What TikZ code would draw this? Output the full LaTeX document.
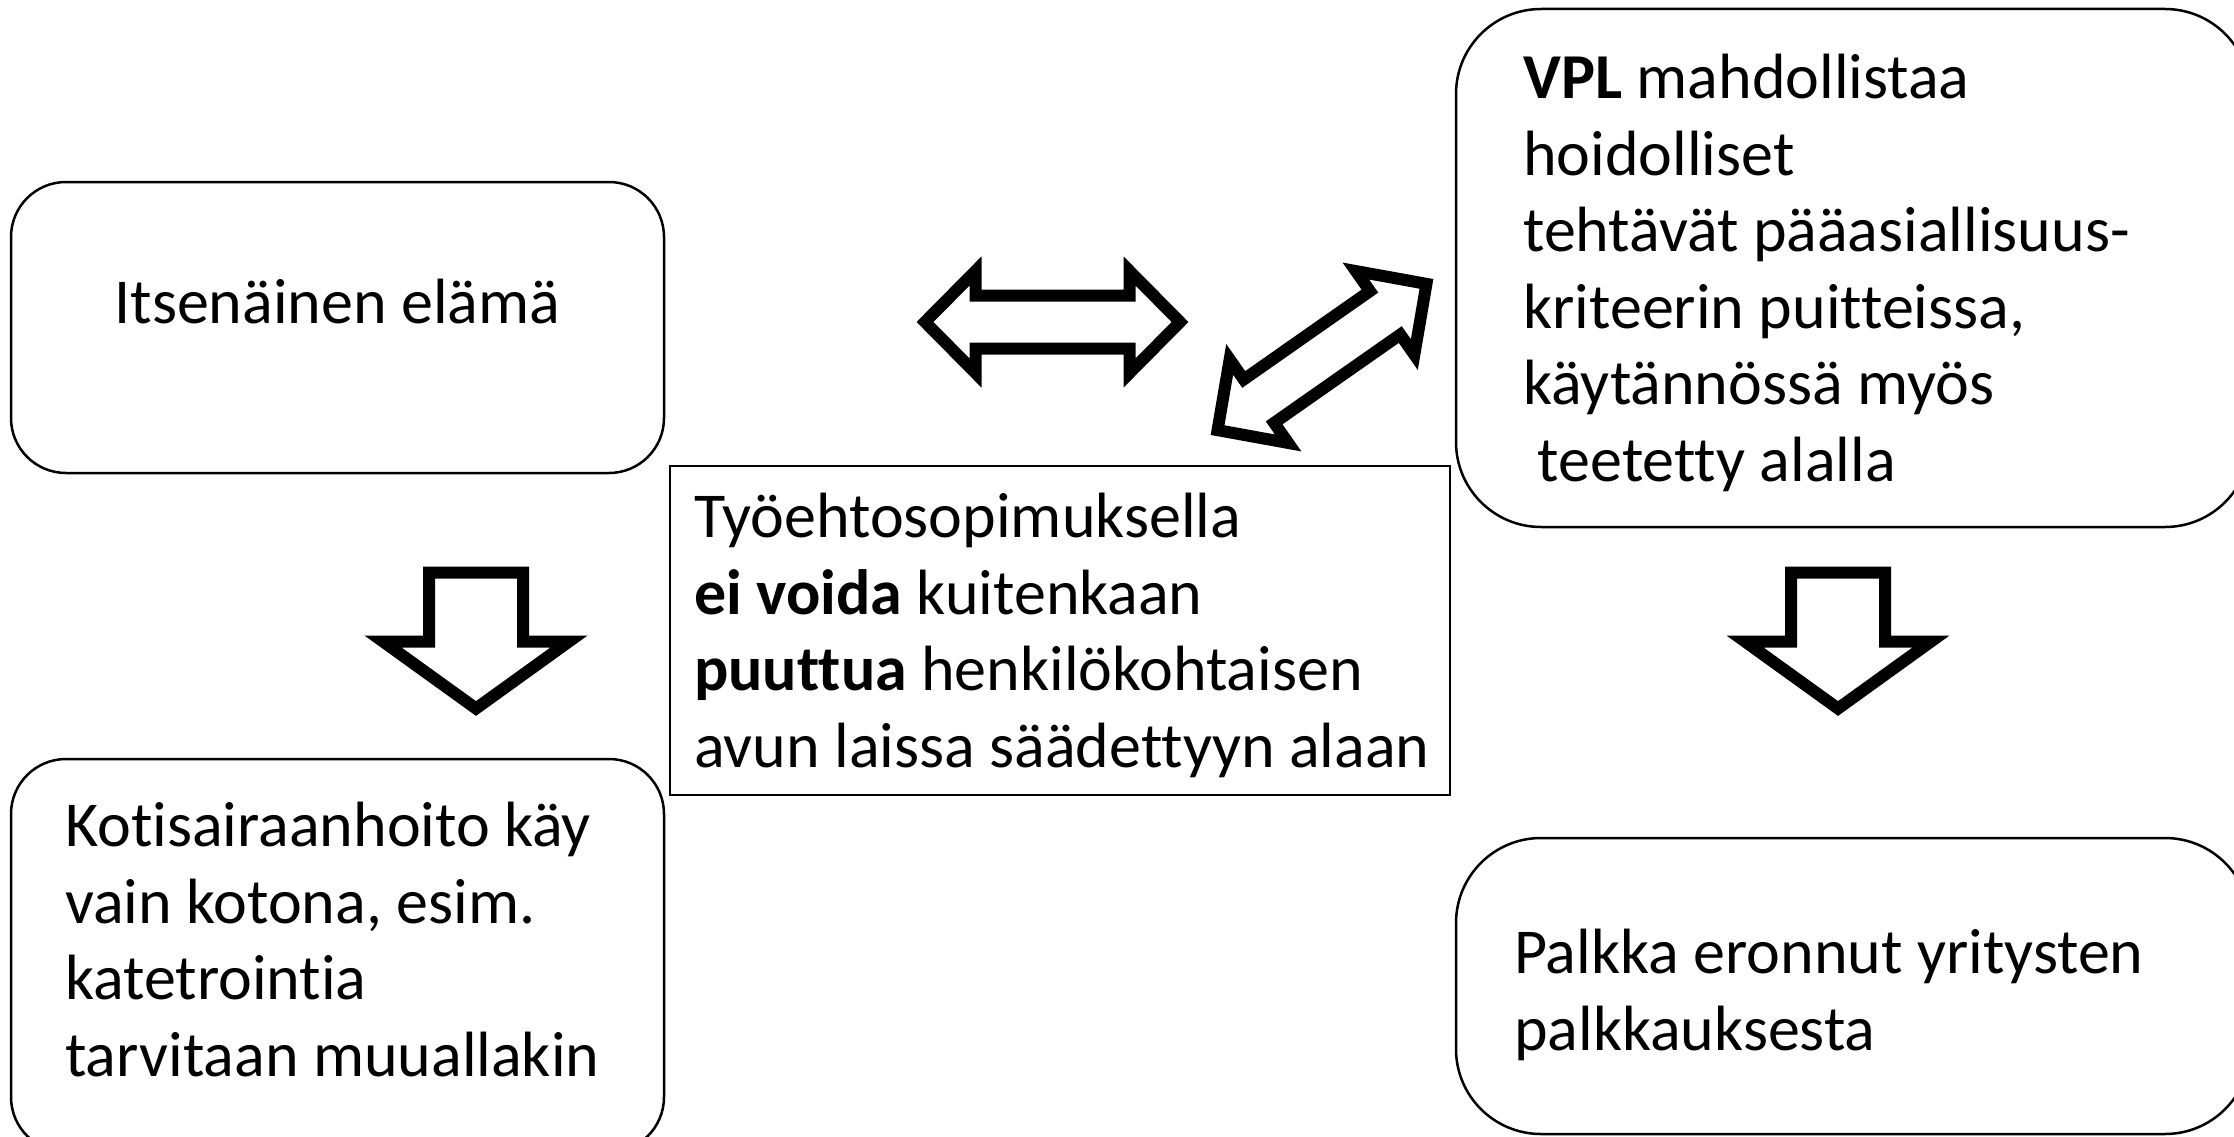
\documentclass[tikz,border=0pt]{standalone}
\usepackage{fontspec}
\setmainfont[Ligatures=NoCommon]{Carlito}
\tikzset{
    box/.style = {draw, line width=2.5pt, rounded corners=55pt},
    bigbox/.style = {box, rounded corners=85pt},
    plainbox/.style = {draw, line width=2pt},
    txt/.style = {anchor=north west, inner sep=0pt, align=left,
        font=\fontsize{64}{76.5}\selectfont},
    blockarrow/.style = {draw, line width=12pt, line join=miter, fill=white}
}

\begin{document}
\begin{tikzpicture}[x=1pt, y=-1pt]
    \clip (0,0) rectangle (2234,1137);

    % boxes
    \node[box, minimum width=653pt, minimum height=291pt] (indep) at (337.5, 327.5) {};
    \node[box, minimum width=653pt, minimum height=393pt] (home) at (337.5, 955.5) {};
    \node[plainbox, minimum width=780pt, minimum height=329pt] (tes) at (1060, 630.5) {};
    \node[bigbox, minimum width=794pt, minimum height=518pt] (vpl) at (1853, 268) {};
    \node[bigbox, minimum width=794pt, minimum height=296pt] (pay) at (1853, 986) {};

    % texts
    \node[anchor=base, inner sep=0pt, font=\fontsize{64}{76.5}\selectfont] (indeptxt) at (337.5, 323) {Itsenäinen elämä};
    \node[txt] (hometxt) at (65, 802) {Kotisairaanhoito käy\\vain kotona, esim.\\katetrointia\\tarvitaan muuallakin};
    \node[txt] (testxt) at (694, 493) {Työehtosopimuksella\\\textbf{ei voida} kuitenkaan\\\textbf{puuttua} henkilökohtaisen\\avun laissa säädettyyn alaan};
    \node[txt] (vpltxt) at (1523, 54) {\textbf{VPL} mahdollistaa\\hoidolliset\\tehtävät pääasiallisuus-\\kriteerin puitteissa,\\käytännössä myös\\\hspace{0.23em}teetetty alalla};
    \node[txt] (paytxt) at (1514, 929) {Palkka eronnut yritysten\\palkkauksesta};

    % block arrows
    \draw[blockarrow, shift={(1052.5, 322)}]
        (-127.5,0) -- (-77,-51) -- (-77,-26.5) -- (77,-26.5) -- (77,-51) -- (127.5,0)
        -- (77,51) -- (77,26.5) -- (-77,26.5) -- (-77,51) -- cycle;
    \draw[blockarrow, shift={(1322, 357)}, rotate=35]
        (-127.5,0) -- (-77,-51) -- (-77,-26.5) -- (77,-26.5) -- (77,-51) -- (127.5,0)
        -- (77,51) -- (77,26.5) -- (-77,26.5) -- (-77,51) -- cycle;
    \draw[blockarrow, shift={(476, 572.5)}]
        (-47,0) -- (47,0) -- (47,69) -- (93,69) -- (0,136) -- (-93,69) -- (-47,69) -- cycle;
    \draw[blockarrow, shift={(1838, 572.5)}]
        (-47,0) -- (47,0) -- (47,69) -- (93,69) -- (0,136) -- (-93,69) -- (-47,69) -- cycle;
\end{tikzpicture}
\end{document}
